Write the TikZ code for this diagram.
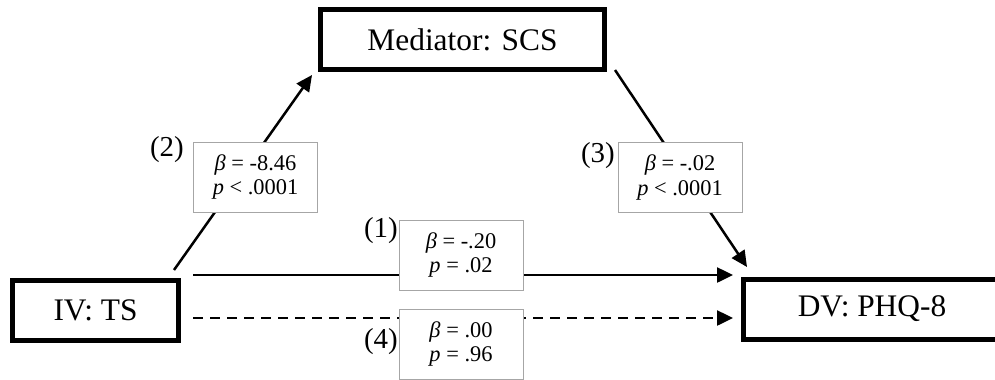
\documentclass[tikz,border=0pt]{standalone}
\usepackage{fontspec}
\setmainfont{Liberation Serif}
\usetikzlibrary{arrows.meta}
\begin{document}
\begin{tikzpicture}[x=1bp,y=-1bp,
 mainbox/.style={draw,line width=5bp,fill=white,font=\fontsize{31.5}{36}\selectfont,inner sep=0,minimum height=60bp},
 statbox/.style={draw=gray!70,fill=white,line width=1bp,minimum width=124bp,minimum height=70bp,inner sep=0,align=center,font=\fontsize{22.5}{25}\selectfont},
 numlab/.style={inner sep=0,anchor=east,font=\fontsize{29}{32}\selectfont},
 arr/.style={line width=2.5bp,-{Triangle[length=16bp,width=15bp]}},
]
\useasboundingbox (0,0) rectangle (995,379);
% main boxes
\node[mainbox,minimum width=284bp] (med) at (462.5,39.5) {Mediator: SCS};
\node[mainbox,minimum width=166bp] (iv) at (95.5,310.5) {IV: TS};
\node[mainbox,minimum width=257bp] (dv) at (872,309) {DV: PHQ-8};
% connector end points
\coordinate (p2s) at (174,270);
\coordinate (p2e) at (312,75);
\coordinate (p3s) at (615,70);
\coordinate (p3e) at (747,267);
\coordinate (p1s) at (193,275);
\coordinate (p1e) at (733,275);
\coordinate (p4s) at (193,318);
\coordinate (p4e) at (733,318);
% connectors
\draw[arr] (p2s) -- (p2e);
\draw[arr] (p3s) -- (p3e);
\draw[arr] (p1s) -- (p1e);
\draw[arr,dash pattern=on 10bp off 7bp] (p4s) -- (p4e);
% stat boxes
\node[statbox] (s2) at (255.5,177) {\textit{β} = -8.46\\\textit{p} < .0001};
\node[statbox] (s3) at (680,177.5) {\textit{β} = -.02\\\textit{p} < .0001};
\node[statbox] (s1) at (461,255) {\textit{β} = -.20\\\textit{p} = .02};
\node[statbox] (s4) at (461,344) {\textit{β} = .00\\\textit{p} = .96};
% path numbers
\node[numlab] (n2) at (184,150) {(2)};
\node[numlab] (n3) at (615,156) {(3)};
\node[numlab] (n1) at (398,231) {(1)};
\node[numlab] (n4) at (398,342) {(4)};
\end{tikzpicture}
\end{document}
